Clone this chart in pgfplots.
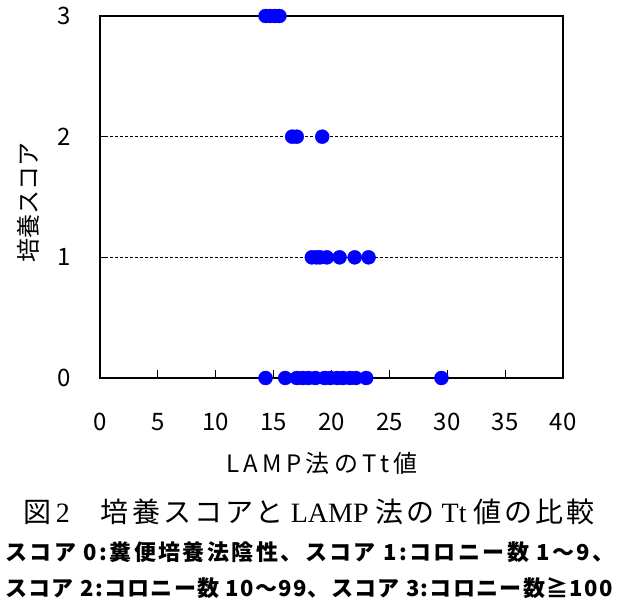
\documentclass[border=0pt]{standalone}
\usepackage{pgfplots}
\pgfplotsset{compat=1.18}
\usepackage{fontspec}
\setmainfont{Noto Sans CJK JP}
\newfontfamily\lser{Liberation Serif}
\begin{document}
\begin{tikzpicture}
\useasboundingbox (-100pt,-232pt) rectangle (518pt,378pt);
\begin{axis}[
  at={(0pt,0pt)}, anchor=south west,
  scale only axis, width=463pt, height=362pt,
  xmin=0, xmax=40, ymin=0, ymax=3,
  xtick={0,5,...,40}, ytick={0,1,2,3},
  tick align=inside, xtick pos=bottom, ytick pos=left,
  major tick length=8pt,
  ymajorgrids, major grid style={dash pattern=on 3pt off 2pt, black, line width=0.8pt},
  axis line style={line width=1.2pt, black},
  tick style={black, line width=1.2pt},
  /pgf/number format/assume math mode=true,
  xticklabel style={font=\fontsize{24}{24}\selectfont, anchor=center, yshift=-44pt},
  yticklabel style={font=\fontsize{24}{24}\selectfont, anchor=center, xshift=-36pt},
  clip=false,
]
\addplot[only marks, mark=*, mark size=7pt, color=blue, mark options={draw=blue, fill=blue}]
  coordinates {(14.3,3) (14.7,3) (15.1,3) (15.5,3)};
\addplot[only marks, mark=*, mark size=7pt, color=blue, mark options={draw=blue, fill=blue}]
  coordinates {(16.6,2) (17.0,2) (19.2,2)};
\addplot[only marks, mark=*, mark size=7pt, color=blue, mark options={draw=blue, fill=blue}]
  coordinates {(18.3,1) (18.7,1) (19.0,1) (19.6,1) (20.7,1) (22.0,1) (23.2,1)};
\addplot[only marks, mark=*, mark size=7pt, color=blue, mark options={draw=blue, fill=blue}]
  coordinates {(14.3,0) (16.0,0) (17.0,0) (17.5,0) (18.0,0) (18.6,0) (19.4,0) (19.9,0) (20.5,0) (21.0,0) (21.6,0) (22.1,0) (23.0,0) (29.5,0)};
\end{axis}
\node[font=\fontsize{24}{24}\selectfont\addfontfeature{LetterSpace=18}] at (222pt,-85pt) {LAMP法のTt値};
\node[rotate=90, font=\fontsize{24}{24}\selectfont] at (-72pt,175pt) {培養スコア};
\node[font=\fontsize{28}{28}\selectfont\addfontfeature{LetterSpace=11}] at (209pt,-134pt) {図{\lser\,2}　培養スコアと{\lser\ LAMP }法の{\lser\ Tt }値の比較};
\node[font=\fontsize{22}{22}\selectfont\bfseries\addfontfeature{LetterSpace=11}] at (210pt,-174pt) {スコア 0:糞便培養法陰性、スコア 1:コロニー数 1〜9、};
\node[font=\fontsize{22}{22}\selectfont\bfseries\addfontfeature{LetterSpace=6}] at (209pt,-210pt) {スコア 2:コロニー数 10〜99、スコア 3:コロニー数≧100};
\end{tikzpicture}
\end{document}
